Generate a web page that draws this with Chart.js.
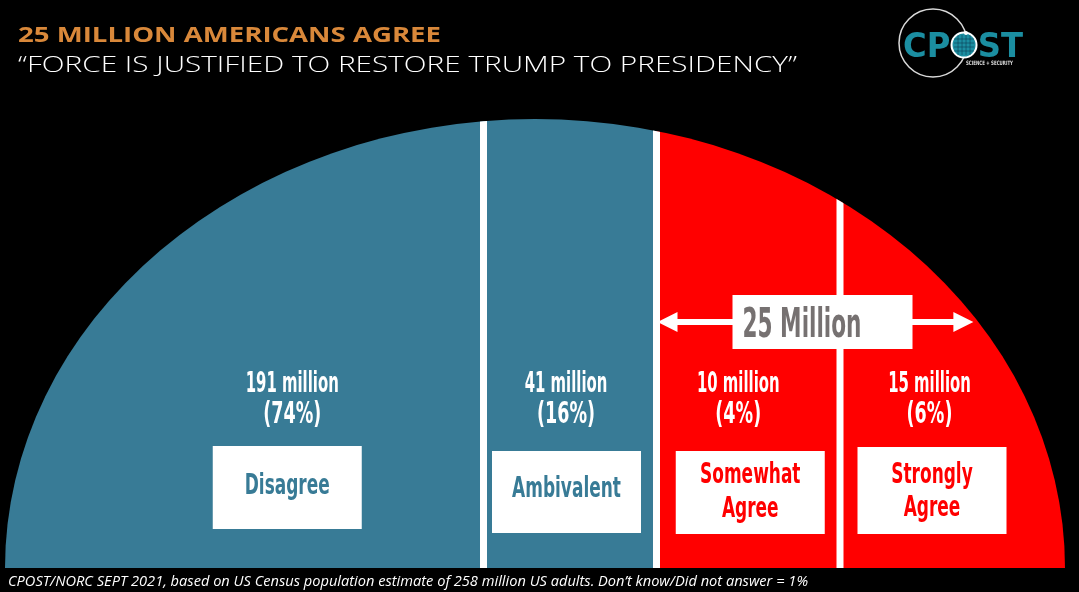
<!DOCTYPE html>
<html>
<head>
<meta charset="utf-8">
<script src="https://cdn.jsdelivr.net/npm/chart.js@4"></script>
<style>
  html, body { margin: 0; padding: 0; background: #000; }
  #arch { display: block; }
</style>
</head>
<body>
<canvas id="arch" width="1079" height="592"></canvas>
<script>
const answers = ["Disagree", "Ambivalent", "Somewhat Agree", "Strongly Agree"];
const millions = [191, 41, 10, 15];
const shares = [74, 16, 4, 6];
const agreeMillions = 25;

// share of the arch's width each answer gets (drawing units)
const stripSpan = [478.5, 173, 183.5, 225];
const stripColors = ["#387b96", "#387b96", "#ff0000", "#ff0000"];

const title = "25 MILLION AMERICANS AGREE";
const subtitle = "\u201CFORCE IS JUSTIFIED TO RESTORE TRUMP TO PRESIDENCY\u201D";
const footnote = "CPOST/NORC SEPT 2021, based on US Census population estimate of 258 million US adults. Don\u2019t know/Did not answer = 1%";

// label placement per strip
const textShift = [48, -4, -10, -23];
const boxShift = [43, -3.5, 2, -20.5];
const boxTop = [446, 451, 451, 447];
const boxHeight = [83, 82, 83, 87];
const boxTextY = [[494], [497], [483, 517], [483, 516]];

const NARROW = '"Liberation Sans Narrow", "DejaVu Sans Condensed", sans-serif';
const TEAL = "#1b8ea1";

function squeezed(ctx, text, x, y, sx) {
    ctx.save();
    ctx.translate(x, y);
    ctx.scale(sx, 1);
    ctx.fillText(text, 0, 0);
    ctx.restore();
}

function fitted(ctx, text, x, y, width) {
    const w = ctx.measureText(text).width;
    squeezed(ctx, text, x, y, width / w);
}

// squeeze factor so that a sample string comes out at a given width
function squeezeFor(ctx, sample, width) {
    return width / ctx.measureText(sample).width;
}

function archEdge(area, y) {
    const cx = (area.left + area.right) / 2;
    const rx = (area.right - area.left) / 2;
    const ry = area.bottom - area.top;
    const v = (area.bottom - y) / ry;
    return cx + rx * Math.sqrt(1 - v * v);
}

// clip the stacked strips to a half ellipse and cut white gaps between them
const archClip = {
    id: "archClip",
    beforeDatasetsDraw(chart) {
        const { ctx, chartArea: a } = chart;
        ctx.save();
        ctx.beginPath();
        ctx.ellipse((a.left + a.right) / 2, a.bottom, (a.right - a.left) / 2, a.bottom - a.top, 0, Math.PI, 2 * Math.PI);
        ctx.closePath();
        ctx.clip();
    },
    afterDatasetsDraw(chart) {
        const { ctx, chartArea: a } = chart;
        ctx.fillStyle = "#fff";
        for (let i = 0; i < chart.data.datasets.length - 1; i++) {
            const bar = chart.getDatasetMeta(i).data[0];
            ctx.fillRect(bar.x - 3.5, a.top - 2, 7, a.bottom - a.top + 2);
        }
        ctx.restore();
    },
};

const stripLabels = {
    id: "stripLabels",
    afterDraw(chart) {
        const { ctx, chartArea: a } = chart;
        ctx.save();
        ctx.textAlign = "center";
        ctx.textBaseline = "alphabetic";

        ctx.font = `bold 29px ${NARROW}`;
        const sxCount = squeezeFor(ctx, "191 million", 93);
        ctx.font = `bold 31px ${NARROW}`;
        const sxShare = squeezeFor(ctx, "(74%)", 58);
        ctx.font = `bold 28px ${NARROW}`;
        const sxWord = squeezeFor(ctx, "Disagree", 85);

        answers.forEach((answer, i) => {
            const bar = chart.getDatasetMeta(i).data[0];
            const mid = (bar.x + bar.base) / 2;

            ctx.fillStyle = "#fff";
            ctx.font = `bold 29px ${NARROW}`;
            squeezed(ctx, `${millions[i]} million`, mid + textShift[i], 392, sxCount);
            ctx.font = `bold 31px ${NARROW}`;
            squeezed(ctx, `(${shares[i]}%)`, mid + textShift[i], 423, sxShare);

            const bx = mid + boxShift[i] - 74.5;
            ctx.fillRect(bx, boxTop[i], 149, boxHeight[i]);

            ctx.fillStyle = stripColors[i];
            ctx.font = `bold 28px ${NARROW}`;
            answer.split(" ").forEach((word, k) => {
                squeezed(ctx, word, mid + boxShift[i], boxTextY[i][k], sxWord);
            });
        });

        // bracket over the two agree strips
        const left = chart.getDatasetMeta(2).data[0].base + 1;
        const y = 322;
        const tip = archEdge(a, y) - 5;
        ctx.fillStyle = "#fff";
        ctx.fillRect(left + 18, y - 3, tip - left - 36, 6);
        ctx.beginPath();
        ctx.moveTo(left, y);
        ctx.lineTo(left + 20, y - 10);
        ctx.lineTo(left + 20, y + 10);
        ctx.closePath();
        ctx.moveTo(tip, y);
        ctx.lineTo(tip - 20, y - 10);
        ctx.lineTo(tip - 20, y + 10);
        ctx.closePath();
        ctx.fill();
        ctx.fillRect(left + 75, 295, 180, 54);
        ctx.fillStyle = "#767171";
        ctx.textAlign = "left";
        ctx.font = `bold 40px ${NARROW}`;
        fitted(ctx, `${agreeMillions} Million`, left + 85, 337, 119);
        ctx.restore();
    },
};

const headings = {
    id: "headings",
    afterDraw(chart) {
        const ctx = chart.ctx;
        ctx.save();
        ctx.textAlign = "left";
        ctx.textBaseline = "alphabetic";

        ctx.fillStyle = "#d9883a";
        ctx.font = 'bold 21px "Open Sans", sans-serif';
        fitted(ctx, title, 18, 42, 423);

        ctx.fillStyle = "#fff";
        ctx.font = '300 22px "Open Sans", sans-serif';
        fitted(ctx, subtitle, 18, 72, 779);

        ctx.font = 'italic 14px "Open Sans", sans-serif';
        fitted(ctx, footnote, 8, 586, 800);

        // CPOST mark
        ctx.strokeStyle = "rgba(255,255,255,0.85)";
        ctx.lineWidth = 1.5;
        ctx.beginPath();
        ctx.arc(933, 43, 34, 0, 2 * Math.PI);
        ctx.stroke();

        ctx.fillStyle = TEAL;
        ctx.font = 'bold 34px "DejaVu Sans", sans-serif';
        const word = "CPOST";
        const sx = 120 / ctx.measureText(word).width;
        squeezed(ctx, word, 903, 57, sx);
        const ox = 903 + sx * (ctx.measureText("CP").width + ctx.measureText("O").width / 2);
        ctx.beginPath();
        ctx.arc(ox, 45, 12.5, 0, 2 * Math.PI);
        ctx.fillStyle = TEAL;
        ctx.fill();
        ctx.strokeStyle = "#fff";
        ctx.lineWidth = 2;
        ctx.stroke();
        ctx.strokeStyle = "rgba(10,60,80,0.7)";
        ctx.lineWidth = 0.8;
        for (let d = -6; d <= 6; d += 4) {
            ctx.beginPath();
            ctx.moveTo(ox - 10, 45 + d);
            ctx.lineTo(ox + 10, 45 + d);
            ctx.moveTo(ox + d, 35);
            ctx.lineTo(ox + d, 55);
            ctx.stroke();
        }
        ctx.fillStyle = "#fff";
        ctx.beginPath();
        ctx.arc(966, 33, 2, 0, 2 * Math.PI);
        ctx.fill();

        ctx.fillStyle = "#ddd";
        ctx.font = 'bold 6px "DejaVu Sans", sans-serif';
        fitted(ctx, "SCIENCE + SECURITY", 966, 65, 47);
        ctx.restore();
    },
};

const spanTotal = stripSpan.reduce((s, v) => s + v, 0);

new Chart(document.getElementById("arch").getContext("2d"), {
    type: "bar",
    data: {
        labels: ["US adults"],
        datasets: answers.map((answer, i) => ({
            label: answer,
            data: [stripSpan[i]],
            backgroundColor: stripColors[i],
            borderWidth: 0,
            barPercentage: 1,
            categoryPercentage: 1,
        })),
    },
    options: {
        indexAxis: "y",
        responsive: false,
        animation: false,
        layout: { padding: { left: 5, right: 14, top: 119, bottom: 24 } },
        scales: {
            x: { stacked: true, display: false, min: 0, max: spanTotal },
            y: { stacked: true, display: false },
        },
        plugins: {
            legend: { display: false },
            tooltip: { enabled: false },
        },
    },
    plugins: [archClip, stripLabels, headings],
});
</script>
</body>
</html>
